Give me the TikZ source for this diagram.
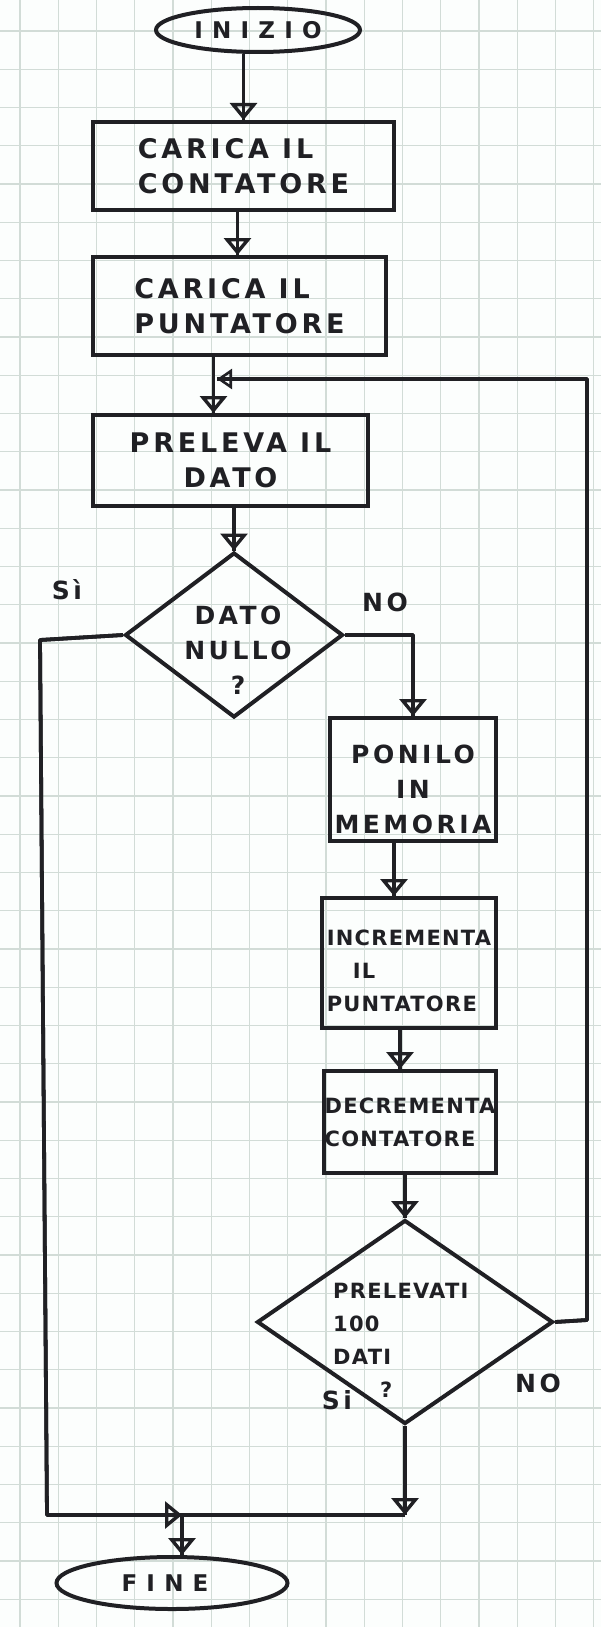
\documentclass[tikz,border=0pt]{standalone}
\usepackage{fontspec}
\newfontfamily\hand{DejaVu Sans}
\usetikzlibrary{shapes.geometric,arrows.meta,calc}
\definecolor{ink}{RGB}{32,32,36}
\definecolor{gridc}{RGB}{210,220,215}
\definecolor{paper}{RGB}{252,254,253}
\newcommand\fBig{\hand\bfseries\fontsize{27}{35}\selectfont\addfontfeature{LetterSpace=14}}
\newcommand\fMid{\hand\bfseries\fontsize{25}{35}\selectfont\addfontfeature{LetterSpace=14}}
\newcommand\fSm{\hand\bfseries\fontsize{21}{33}\selectfont\addfontfeature{LetterSpace=6}}
\newcommand\fIni{\hand\bfseries\fontsize{23}{28}\selectfont\addfontfeature{LetterSpace=40}}
\begin{document}
\begin{tikzpicture}[x=1pt,y=-1pt,
  term/.style={ellipse, draw=ink, line width=4pt, inner sep=0pt, text=ink},
  boxn/.style={rectangle, draw=ink, line width=4pt, inner sep=0pt, text=ink},
  dia/.style={diamond, draw=ink, line width=4pt, inner sep=0pt},
  txt/.style={text=ink, inner sep=0pt},
  conn/.style={draw=ink, line width=3.8pt, line join=round},
  arr/.style={draw=ink, line width=3.8pt, line join=round,
    -{Triangle[open, length=17pt, width=27pt, line width=3.4pt]},
    postaction={draw=ink, line width=3.8pt, arrows=-}},
  arrs/.style={draw=ink, line width=3.8pt, line join=round,
    -{Triangle[open, length=15pt, width=20pt, line width=2.6pt]},
    postaction={draw=ink, line width=3.8pt, arrows=-}}
]
\fill[paper] (0,0) rectangle (601,1627);
\useasboundingbox (0,0) rectangle (601,1627);
\foreach \i in {0,...,15} \draw[gridc, line width=1.3pt] ({20+38.25*\i},0) -- ({20+38.25*\i},1627);
\foreach \j in {0,...,41} \draw[gridc, line width=1.3pt] (0,{31+38.25*\j}) -- (601,{31+38.25*\j});

% nodes
\node[term, minimum width=204pt, minimum height=44pt, font=\fIni] (inizio) at (258,30) {INIZIO};
\node[boxn, minimum width=301pt, minimum height=88pt, align=left, font=\fBig] (box1) at (243.5,166) {CARICA IL\\CONTATORE};
\node[boxn, minimum width=293pt, minimum height=98pt, align=left, font=\fBig] (box2) at (239.5,306) {CARICA IL\\PUNTATORE};
\node[boxn, minimum width=275pt, minimum height=91pt, align=center, font=\fBig] (box3) at (230.5,460.5) {PRELEVA IL\\DATO};
\node[dia, minimum width=218pt, minimum height=165pt] (dia1) at (234,635) {};
\node[txt, align=center, font=\fMid] (t1) at (238,650) {DATO\\NULLO\\?};
\node[boxn, minimum width=166pt, minimum height=123pt, align=center, font=\fMid] (box4) at (413,779.5) {\rule{0pt}{38pt}PONILO\\IN\\MEMORIA};
\node[boxn, minimum width=174pt, minimum height=130pt, align=left, font=\fSm] (box5) at (409,963) {\rule{0pt}{31pt}INCREMENTA\\\hspace*{26pt}IL\\PUNTATORE};
\node[boxn, minimum width=172pt, minimum height=102pt, align=left, font=\fSm] (box6) at (410,1122) {DECREMENTA\\CONTATORE};
\node[dia, minimum width=296pt, minimum height=204pt] (dia2) at (405,1322) {};
\node[txt, align=left, anchor=north west, font=\fSm] (t2) at (333,1283) {PRELEVATI\\100\\DATI\\\hspace*{47pt}?};
\node[term, minimum width=231pt, minimum height=52pt, font=\fIni] (fine) at (172,1583) {FINE\hspace*{14pt}};

\node[txt, font=\fMid] (si1) at (67,590) {Sì};
\node[txt, font=\fMid] (no1) at (385,602) {NO};
\node[txt, font=\fMid] (no2) at (538,1383) {NO};
\node[txt, font=\fMid] (si2) at (337,1400) {Si};

% coordinates
\coordinate (L1) at (40,640);
\coordinate (L2) at (47,1515);
\coordinate (J) at (182,1515);
\coordinate (M) at (217,379);
\coordinate (R1) at (587,1320);
\coordinate (R2) at (587,379);
\coordinate (a2) at ([xshift=-6pt]box1.south);
\coordinate (a3) at ([xshift=-26pt]box2.south);
\coordinate (a5) at ([xshift=-19pt]box4.south);
\coordinate (a6) at ([xshift=-9pt]box5.south);

% connectors
\draw[arr] (inizio.south -| box1.north) -- (box1.north);
\draw[arr] (a2) -- (a2 |- box2.north);
\draw[arr] (a3) -- (a3 |- box3.north);
\draw[arr] (box3.south -| dia1.north) -- (dia1.north);
\draw[arr] (dia1.west) -- (L1) -- (L2) -- (J);
\draw[arr] (dia1.east) -- (dia1.east -| box4.north) -- (box4.north);
\draw[arr] (a5) -- (a5 |- box5.north);
\draw[arr] (a6) -- (a6 |- box6.north);
\draw[arr] (box6.south -| dia2.north) -- (dia2.north);
\draw[arrs] (dia2.east) -- (R1) -- (R2) -- (M);
\draw[arr] (dia2.south) -- (dia2.south |- J);
\draw[conn] (dia2.south |- J) -- (J);
\draw[arr] (J) -- (J |- fine.north);
\end{tikzpicture}
\end{document}
